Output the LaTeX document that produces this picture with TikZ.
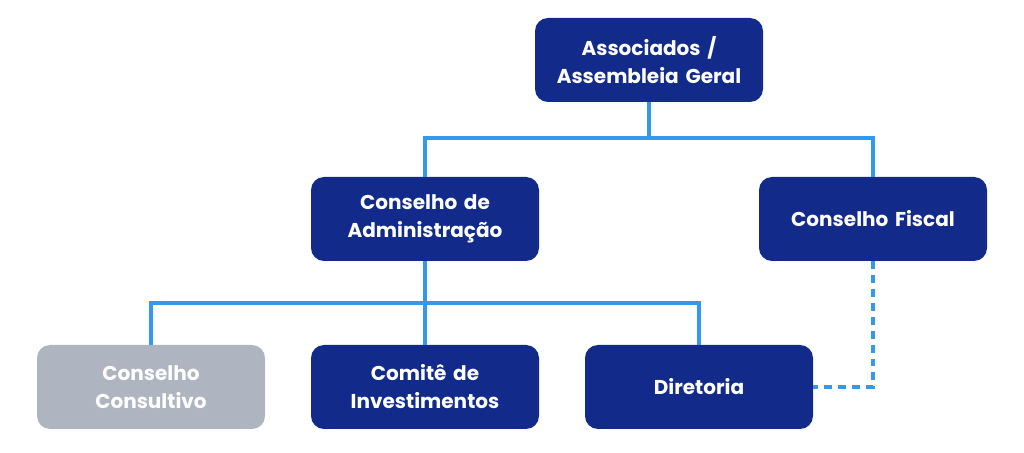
\documentclass[tikz,border=0pt]{standalone}
\usepackage{fontspec}
\setmainfont{Poppins}
\definecolor{navy}{HTML}{122B8A}
\definecolor{linkblue}{HTML}{3399EE}
\definecolor{greybox}{HTML}{AEB5C0}
\begin{document}
\begin{tikzpicture}[
    auto,
    block/.style={
      rectangle,
      fill=navy,
      text=white,
      font=\fontsize{11.4}{16}\selectfont\bfseries,
      text width=4.2cm,
      align=center,
      rounded corners=0.26cm,
      minimum width=4.56cm,
      minimum height=1.68cm
    },
    link/.style={
      draw=linkblue,
      line width=2.2pt
    }]

    \useasboundingbox (0,0) rectangle (20.48,9.06);

    % top box
    \draw (12.98,7.86) node[block] (AG) {Associados /\\Assembleia Geral};
    % second level
    \draw (8.5,4.68) node[block] (CA) {Conselho de\\Administração};
    \draw (17.46,4.68) node[block] (CF) {Conselho Fiscal};
    % third level
    \draw (3.02,1.32) node[block,fill=greybox] (CC) {Conselho\\Consultivo};
    \draw (8.5,1.32) node[block] (CI) {Comitê de\\Investimentos};
    \draw (13.98,1.32) node[block] (D) {Diretoria};

    % lines
    \coordinate (b1) at (12.98,6.3);
    \coordinate (b2) at (8.5,3.0);
    \draw[link] (AG.south) -- (b1);
    \draw[link] (b1) -| (CA.north);
    \draw[link] (b1) -| (CF.north);
    \draw[link] (CA.south) -- (b2);
    \draw[link] (b2) -| (CC.north);
    \draw[link] (b2) -- (CI.north);
    \draw[link] (b2) -| (D.north);
    \draw[link, dash pattern=on 4.5pt off 3.4pt] (CF.south) |- (D.east);
  \end{tikzpicture}
\end{document}
